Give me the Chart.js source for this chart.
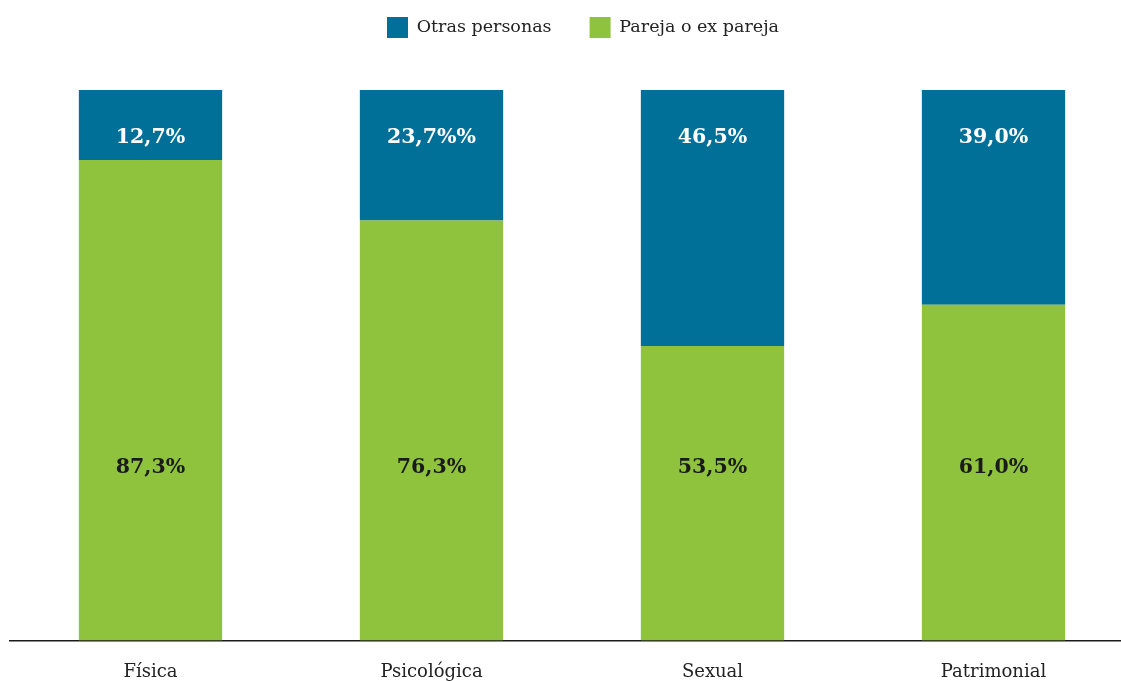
<!DOCTYPE html>
<html>
<head>
<meta charset="utf-8">
<script src="https://cdn.jsdelivr.net/npm/chart.js@4"></script>
<style>
  html, body { margin: 0; padding: 0; background: #fff; overflow: hidden; }
  #wrap { width: 1134px; height: 681px; position: relative; }
</style>
</head>
<body>
<div id="wrap"><canvas id="c"></canvas></div>
<script>
const categories = ['Física', 'Psicológica', 'Sexual', 'Patrimonial'];
const parejaValues = [87.3, 76.3, 53.5, 61.0];
const otrasValues = [12.7, 23.7, 46.5, 39.0];
const parejaLabels = ['87,3%', '76,3%', '53,5%', '61,0%'];
const otrasLabels = ['12,7%', '23,7%%', '46,5%', '39,0%'];
const seriesNames = ['Pareja o ex pareja', 'Otras personas'];

const FONT = "'DejaVu Serif', serif";

const barLabels = {
  id: 'barLabels',
  afterDatasetsDraw(chart) {
    const ctx = chart.ctx;
    const y = chart.scales.y;
    const sets = [
      { idx: 0, labels: parejaLabels, color: '#1a1a1a', pos: 31.45 },
      { idx: 1, labels: otrasLabels, color: '#ffffff', pos: 91.27 }
    ];
    ctx.save();
    ctx.font = "bold 20.5px " + FONT;
    ctx.textAlign = 'center';
    ctx.textBaseline = 'middle';
    sets.forEach(s => {
      const meta = chart.getDatasetMeta(s.idx);
      meta.data.forEach((bar, i) => {
        ctx.fillStyle = s.color;
        ctx.fillText(s.labels[i], bar.x, y.getPixelForValue(s.pos));
      });
    });
    ctx.restore();
  }
};

const legendTweak = {
  id: 'legendTweak',
  beforeInit(chart) {
    const orig = chart.legend.fit;
    chart.legend.fit = function () {
      orig.call(this);
      this.height = 90 - chart.options.layout.padding.top;
    };
  },
  afterLayout(chart) {
    chart.legend.left += 11;
    chart.legend.right += 11;
  }
};

new Chart(document.getElementById('c'), {
  type: 'bar',
  data: {
    labels: categories,
    datasets: [
      { label: seriesNames[0], data: parejaValues, backgroundColor: '#8fc33e', borderWidth: 0 },
      { label: seriesNames[1], data: otrasValues, backgroundColor: '#007098', borderWidth: 0 }
    ]
  },
  options: {
    responsive: true,
    maintainAspectRatio: false,
    animation: false,
    layout: { padding: { top: -21, left: 10, right: 0, bottom: -23 } },
    categoryPercentage: 1,
    barPercentage: 0.51,
    plugins: {
      tooltip: { enabled: false },
      legend: {
        display: true,
        position: 'top',
        reverse: true,
        labels: {
          boxWidth: 21,
          boxHeight: 21,
          padding: 38,
          color: '#222',
          font: { family: FONT, size: 17.5 }
        }
      }
    },
    scales: {
      x: {
        stacked: true,
        grid: { display: false, drawTicks: false },
        border: { display: true, color: '#1a1a1a', width: 1.5 },
        ticks: { color: '#222', padding: 21, font: { family: FONT, size: 18 } }
      },
      y: {
        stacked: true,
        display: false,
        min: 0,
        max: 100
      }
    }
  },
  plugins: [barLabels, legendTweak]
});
</script>
</body>
</html>
